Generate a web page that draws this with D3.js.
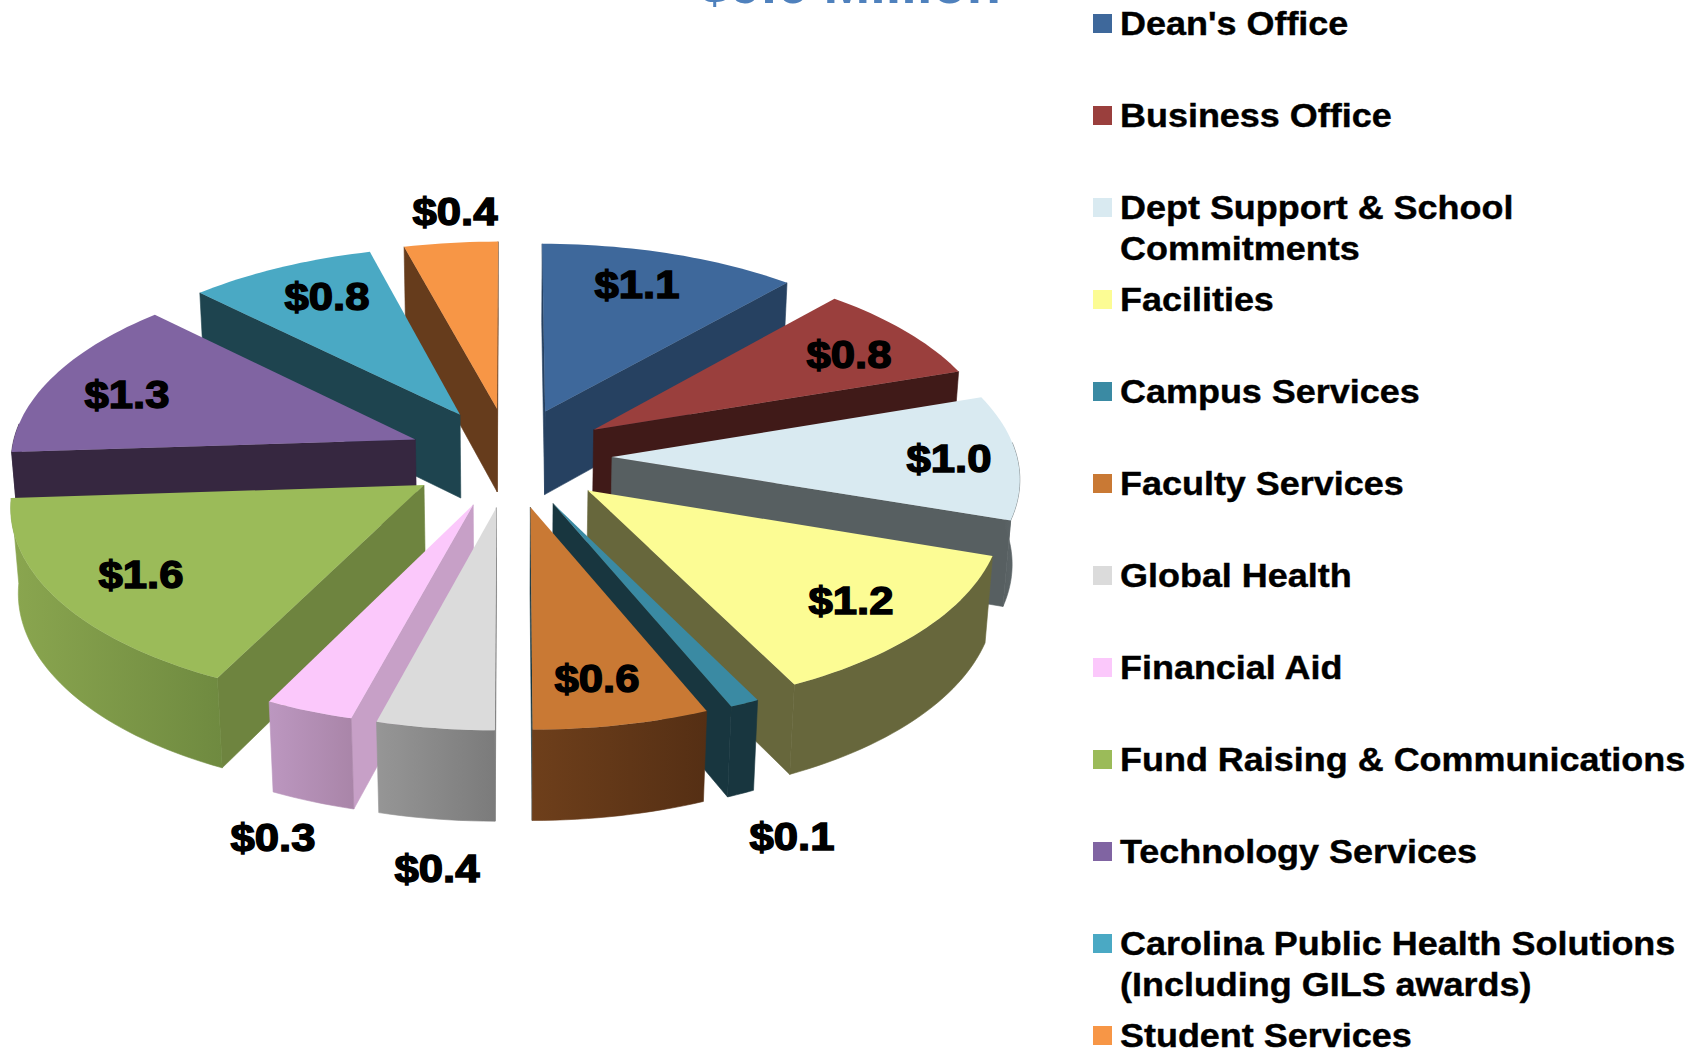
<!DOCTYPE html>
<html>
<head>
<meta charset="utf-8">
<script src="https://cdn.jsdelivr.net/npm/d3@7"></script>
<style>
    html, body { margin: 0; padding: 0; background: #ffffff; }
    svg { display: block; }
    text { font-family: "Liberation Sans", Arial, sans-serif; font-weight: bold; }
</style>
</head>
<body>
<div id="chart"></div>
<script>
var categories = ["Dean's Office", "Business Office", "Dept Support & School Commitments", "Facilities",
    "Campus Services", "Faculty Services", "Global Health", "Financial Aid",
    "Fund Raising & Communications", "Technology Services",
    "Carolina Public Health Solutions (Including GILS awards)", "Student Services"];
var values = [1.1, 0.8, 1.0, 1.2, 0.1, 0.6, 0.4, 0.3, 1.6, 1.3, 0.8, 0.4];
var title = "$9.6 Million";

// legend text, wrapped like the original
var legendLines = [["Dean's Office"], ["Business Office"], ["Dept Support & School", "Commitments"], ["Facilities"],
    ["Campus Services"], ["Faculty Services"], ["Global Health"], ["Financial Aid"],
    ["Fund Raising & Communications"], ["Technology Services"],
    ["Carolina Public Health Solutions", "(Including GILS awards)"], ["Student Services"]];

var topColors = ["#3e689b", "#9a3f3d", "#d9eaf1", "#fcfc94", "#3a8aa3", "#c97934",
    "#dbdbdb", "#fbc8fb", "#9bbb59", "#8064a2", "#4aa9c4", "#f79646"];
var sideColors = ["#264161", "#401a18", "#575f61", "#67673c", "#18363f", "#18363f",
    "#7b7b7b", "#c7a0c7", "#6e843f", "#362740", "#1e444f", "#663c1c"];
// rim shading, left end and right end of the visible rim
var rimLeft = ["#264161", "#401a18", "#575f61", "#67673c", "#18363f", "#6e3f1b",
    "#969696", "#bc97c0", "#8aa64f", "#362740", "#1e444f", "#663c1c"];
var rimRight = ["#264161", "#401a18", "#5f686b", "#67673c", "#18363f", "#552f14",
    "#7b7b7b", "#a985a8", "#6f8a40", "#362740", "#1e444f", "#663c1c"];

// back to front, so nearer slices cover the ones behind
var drawOrder = [11, 0, 1, 2, 3, 10, 9, 8, 4, 5, 7, 6];

// centre and baseline of each data label
var labelAt = [[637, 298], [849, 368], [949, 472], [851, 614], [792, 850], [597, 692],
    [437, 882], [273, 851], [141, 588], [127, 408], [327, 310], [455, 225]];

var w = 1702;
var h = 1051;

var cx = 510, cy = 457;
var radiusX = 405, radiusY = 392;
var explode = 102;
var depth = 84;
var tilt = 0.4885;
var perspective = 0.00024;
var depthPerspective = 0.00018;
var depthDrop = 1.02;

// X right, Y to the back of the pie, d down from the top face
function project(X, Y, d) {
    var s = 1 / (1 + perspective * Y + depthPerspective * d);
    return [cx + X * s, cy - tilt * Y * s + d * depthDrop * s];
}

var svg = d3.select("#chart").append("svg").attr("width", w).attr("height", h);
var defs = svg.append("defs");

var slices = d3.pie().sort(null).startAngle(0).endAngle(2 * Math.PI)(values);
var polygon = d3.line().curve(d3.curveLinearClosed);

function rimPoint(slice, a, d) {
    var mid = (slice.startAngle + slice.endAngle) / 2;
    return project(explode * Math.sin(mid) + radiusX * Math.sin(a),
        explode * Math.cos(mid) + radiusY * Math.cos(a), d);
}

function apexPoint(slice, d) {
    var mid = (slice.startAngle + slice.endAngle) / 2;
    return project(explode * Math.sin(mid), explode * Math.cos(mid), d);
}

function drawSlice(i) {
    var slice = slices[i];
    var g = svg.append("g").attr("class", "slice");
    var steps = Math.max(6, Math.round((slice.endAngle - slice.startAngle) * 40));
    var angle = d3.scaleLinear().domain([0, steps]).range([slice.startAngle, slice.endAngle]);
    var angles = d3.range(steps + 1).map(angle);

    // radial faces, only the ones looking at the viewer
    [slice.startAngle, slice.endAngle].forEach(function (a, k) {
        var quad = [apexPoint(slice, 0), apexPoint(slice, depth), rimPoint(slice, a, depth), rimPoint(slice, a, 0)];
        var area = d3.polygonArea(quad);
        if ((k === 0 && area < 0) || (k === 1 && area > 0)) {
            g.append("path").attr("d", polygon(quad))
                .attr("fill", sideColors[i]).attr("stroke", sideColors[i]).attr("stroke-width", 0.6);
        }
    });

    // outer rim, front half only
    var front = angles.filter(function (a) { return Math.cos(a) < 0.1; });
    if (front.length > 1) {
        var rim = front.map(function (a) { return rimPoint(slice, a, 0); })
            .concat(front.slice().reverse().map(function (a) { return rimPoint(slice, a, depth); }));
        var xExtent = d3.extent(rim, function (p) { return p[0]; });
        var grad = defs.append("linearGradient").attr("id", "rim" + i)
            .attr("gradientUnits", "userSpaceOnUse")
            .attr("x1", xExtent[0]).attr("x2", xExtent[1]).attr("y1", 0).attr("y2", 0);
        grad.append("stop").attr("offset", 0).attr("stop-color", rimLeft[i]);
        grad.append("stop").attr("offset", 1).attr("stop-color", rimRight[i]);
        g.append("path").attr("d", polygon(rim))
            .attr("fill", "url(#rim" + i + ")").attr("stroke", "url(#rim" + i + ")").attr("stroke-width", 0.6);
    }

    var top = [apexPoint(slice, 0)].concat(angles.map(function (a) {
        return rimPoint(slice, a, 0);
    }));
    g.append("path").attr("d", polygon(top)).attr("fill", topColors[i]);
}

drawOrder.forEach(drawSlice);

// data labels
svg.append("g").selectAll("text").data(values).enter().append("text")
    .attr("x", function (d, i) { return labelAt[i][0]; })
    .attr("y", function (d, i) { return labelAt[i][1]; })
    .attr("text-anchor", "middle")
    .attr("font-size", 38)
    .attr("textLength", 85)
    .attr("lengthAdjust", "spacingAndGlyphs")
    .attr("fill", "#000000")
    .attr("stroke", "#000000")
    .attr("stroke-width", 1.4)
    .text(function (d) { return "$" + d.toFixed(1); });

// title, cut by the top of the picture
svg.append("text")
    .attr("x", 699).attr("y", 3)
    .attr("font-size", 56)
    .attr("fill", "#4f81bd")
    .text(title);

// legend
var rowY = d3.scaleLinear().domain([0, categories.length - 1]).range([35, 1047]);

var legend = svg.selectAll(".legendRow").data(categories).enter().append("g")
    .attr("class", "legendRow")
    .attr("transform", function (d, i) { return "translate(1093," + rowY(i) + ")"; });

legend.append("rect")
    .attr("x", 0).attr("y", -21)
    .attr("width", 19).attr("height", 19)
    .attr("fill", function (d, i) { return topColors[i]; });

legend.each(function (d, i) {
    d3.select(this).selectAll("text").data(legendLines[i]).enter().append("text")
        .attr("transform", function (line, k) { return "translate(27," + (k * 41) + ") scale(1.09,1)"; })
        .attr("font-size", 33)
        .attr("fill", "#000000")
        .attr("stroke", "#000000")
        .attr("stroke-width", 0.4)
        .text(function (line) { return line; });
});
</script>
</body>
</html>
